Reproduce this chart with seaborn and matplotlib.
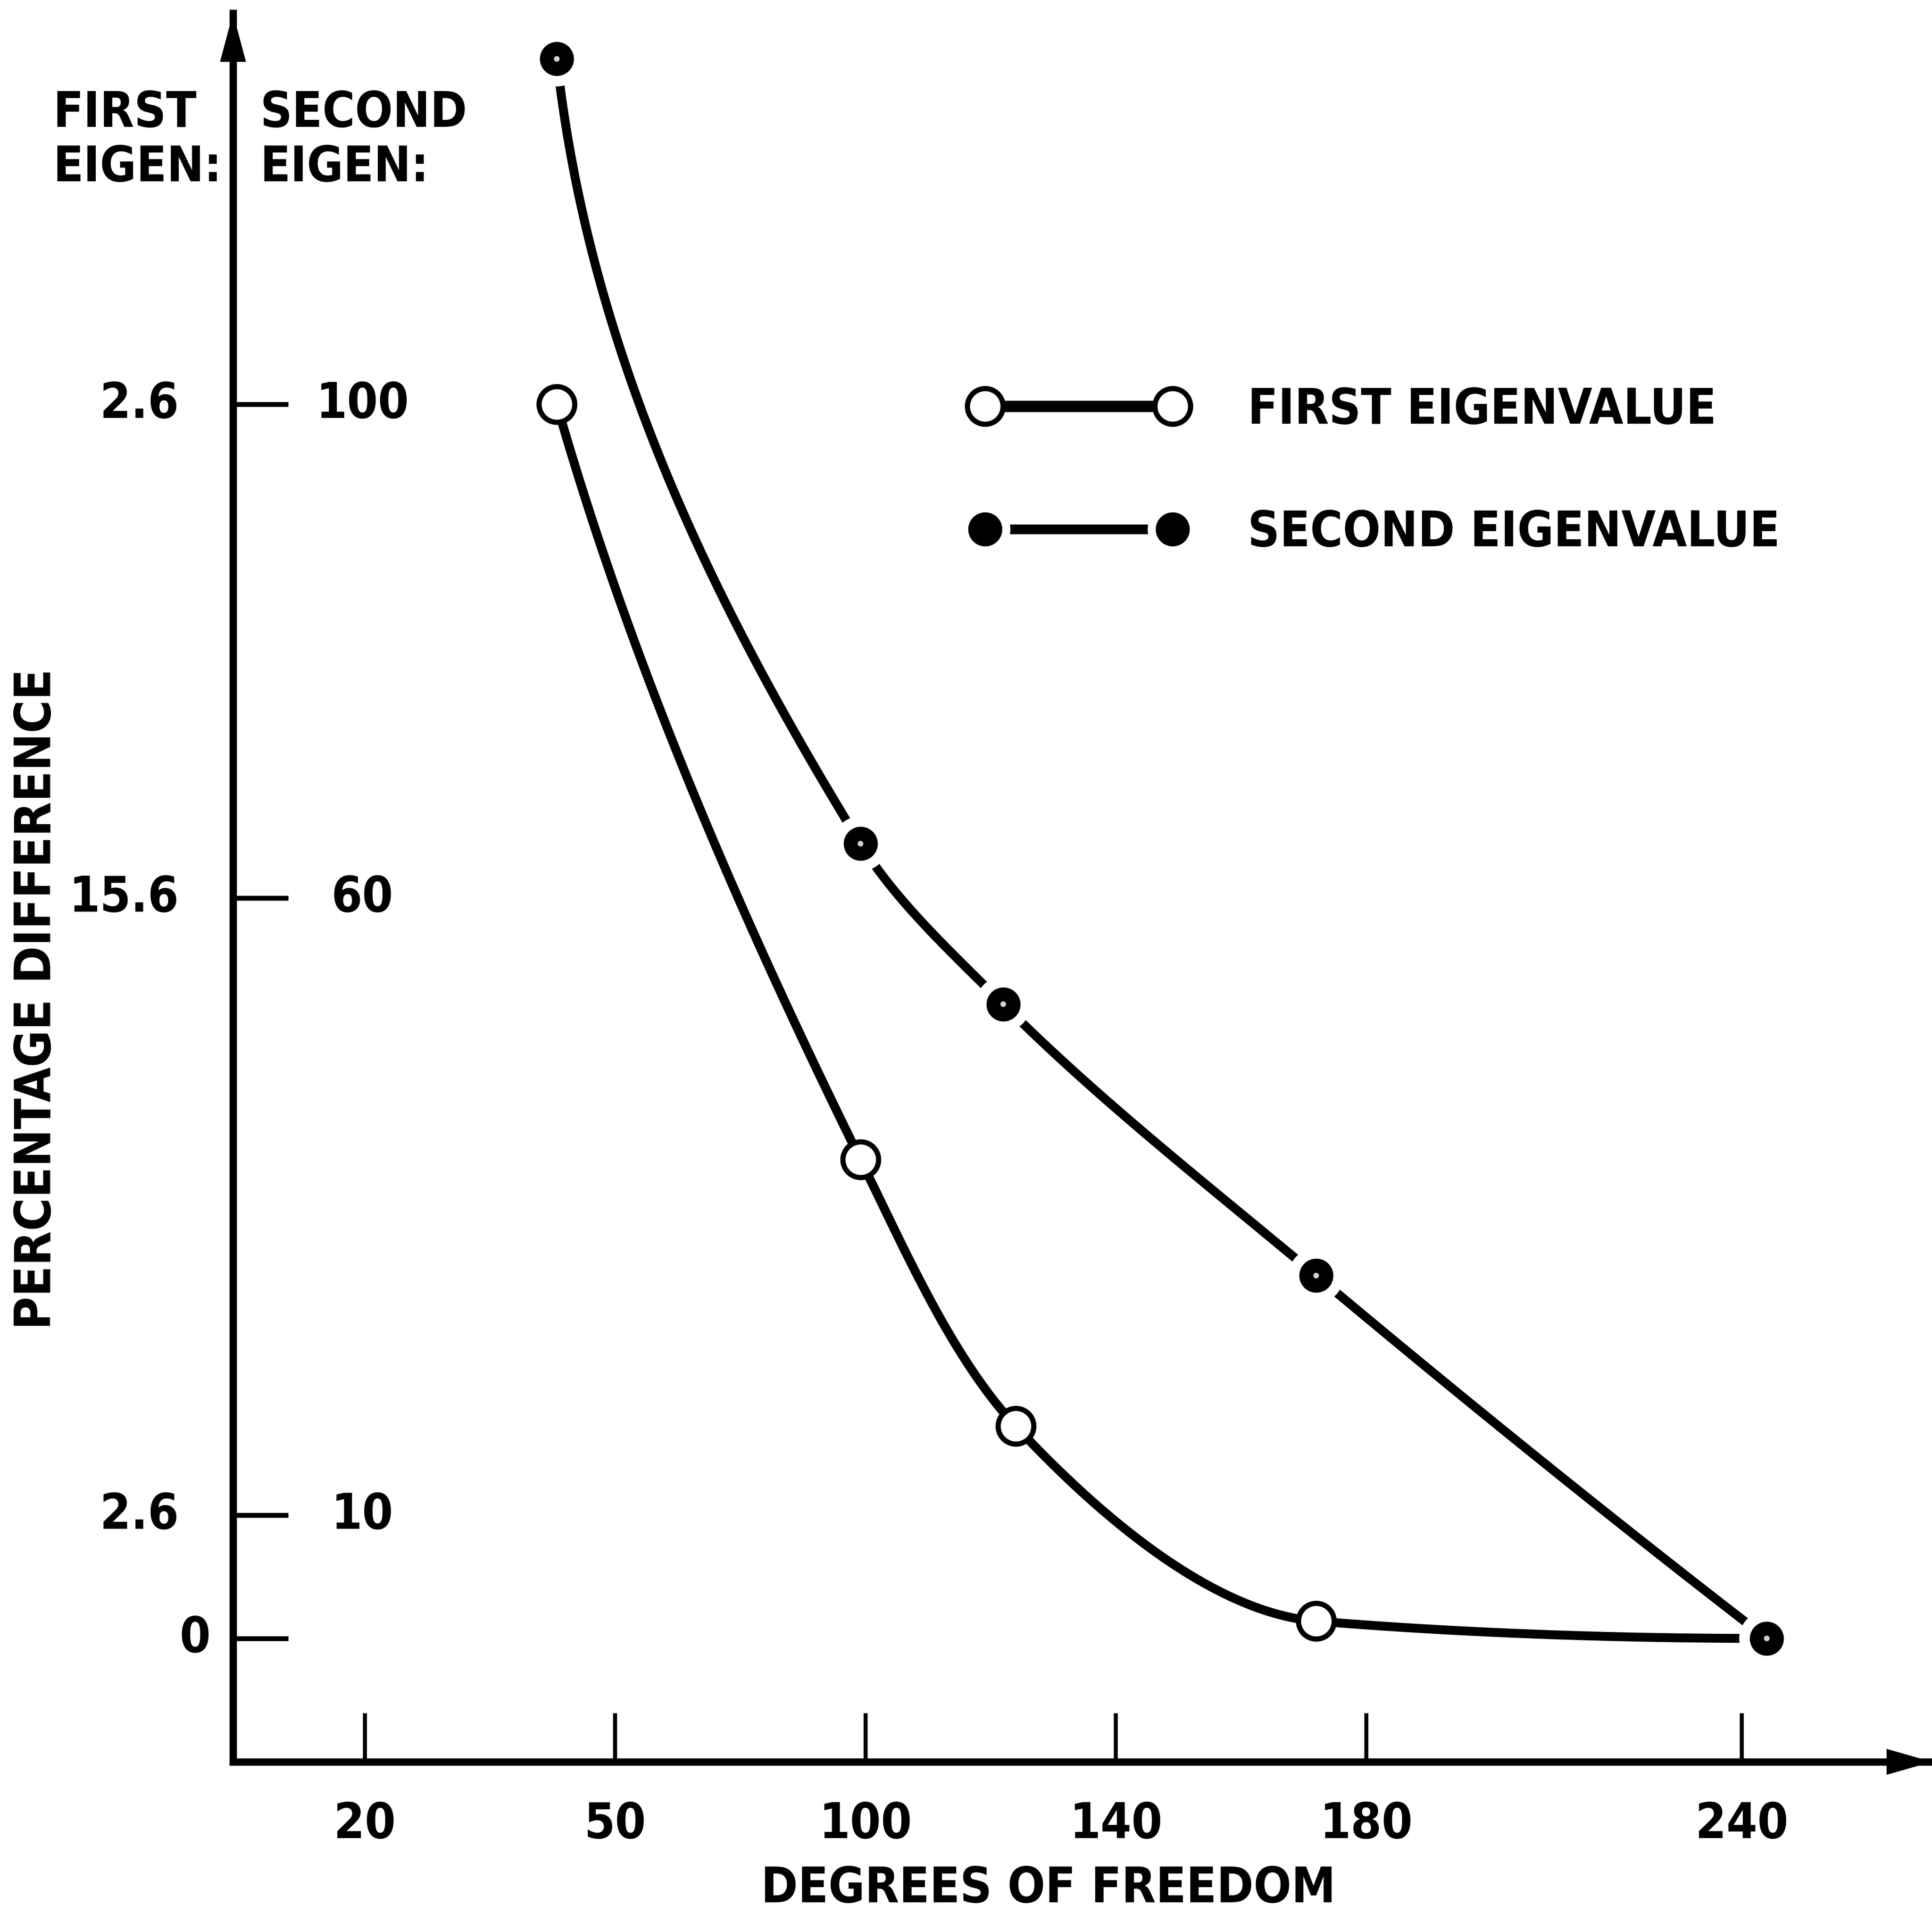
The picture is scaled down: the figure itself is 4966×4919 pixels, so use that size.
import os
import numpy as np
import pandas as pd
import matplotlib
matplotlib.use("Agg")
import matplotlib.pyplot as plt
from matplotlib import font_manager
from matplotlib.font_manager import FontProperties
from matplotlib.lines import Line2D
from matplotlib.legend_handler import HandlerTuple
from matplotlib.transforms import blended_transform_factory
import seaborn as sns

# ---- data -------------------------------------------------------------
# printed degrees-of-freedom ticks and the (uneven) axis position of each
dof_ticks = [20, 50, 100, 140, 180, 240]
dof_tick_pos = [0.0, 1.0, 2.0, 3.0, 4.0, 5.5]

# percentage difference, expressed on the second-eigenvalue scale
first_dof = [43, 99, 124, 172, 244]
first_pct = [100.0, 38.8, 17.2, 1.4, 0.0]
second_dof = [43, 99, 122, 172, 244]
second_pct = [128.0, 64.4, 51.4, 29.4, 0.0]

# y scale: one tick row, two label columns
y_ticks = [0, 10, 60, 100]
first_tick_labels = ["0", "2.6", "15.6", "2.6"]
second_tick_labels = ["", "10", "60", "100"]

series_names = ["FIRST EIGENVALUE", "SECOND EIGENVALUE"]


# ---- helpers ----------------------------------------------------------
def find_narrow_bold():
    """Path of a bold narrow/condensed sans face, if one is installed."""
    entries = font_manager.fontManager.ttflist
    wanted = [("liberationsansnarrow", "bold"),
              ("dejavusanscondensed", "bold"),
              ("narrow", "bold"),
              ("condensed", "bold")]
    for key, weight in wanted:
        for e in entries:
            fn = os.path.basename(e.fname).lower().replace("-", "").replace("_", "")
            if key in fn and weight in fn and "italic" not in fn \
                    and "oblique" not in fn:
                return e.fname
    for e in entries:
        stretch = e.stretch
        narrow = (isinstance(stretch, str) and "condensed" in stretch) or \
                 (isinstance(stretch, (int, float)) and stretch < 500)
        w = e.weight
        bold = (isinstance(w, str) and "bold" in w) or \
               (isinstance(w, (int, float)) and w >= 600)
        if narrow and bold and e.style == "normal":
            return e.fname
    return None


knot_dof = [0.0] + dof_ticks + [300.0]
knot_pos = [-2.0 / 3.0] + dof_tick_pos + [7.0]


def dof_forward(v):
    return np.interp(v, knot_dof, knot_pos)


def dof_inverse(p):
    return np.interp(p, knot_pos, knot_dof)


def monotone_cubic(x, y, xs):
    """Fritsch-Carlson monotone cubic through (x, y), evaluated at xs."""
    x = np.asarray(x, float)
    y = np.asarray(y, float)
    h = np.diff(x)
    d = np.diff(y) / h
    n = len(x)
    m = np.zeros(n)
    for k in range(1, n - 1):
        if d[k - 1] * d[k] > 0:
            w1 = 2 * h[k] + h[k - 1]
            w2 = h[k] + 2 * h[k - 1]
            m[k] = (w1 + w2) / (w1 / d[k - 1] + w2 / d[k])

    def end(h0, h1, d0, d1):
        s = ((2 * h0 + h1) * d0 - h0 * d1) / (h0 + h1)
        if np.sign(s) != np.sign(d0):
            return 0.0
        if np.sign(d0) != np.sign(d1) and abs(s) > 3 * abs(d0):
            return 3 * d0
        return s

    m[0] = end(h[0], h[1], d[0], d[1])
    m[-1] = end(h[-1], h[-2], d[-1], d[-2])
    idx = np.clip(np.searchsorted(x, xs) - 1, 0, n - 2)
    t = (xs - x[idx]) / h[idx]
    h00 = 2 * t**3 - 3 * t**2 + 1
    h10 = t**3 - 2 * t**2 + t
    h01 = -2 * t**3 + 3 * t**2
    h11 = t**3 - t**2
    return (h00 * y[idx] + h10 * h[idx] * m[idx]
            + h01 * y[idx + 1] + h11 * h[idx] * m[idx + 1])


def smooth_path(ax, dof, pct, n=700):
    """Smooth curve through the points, built along the drawn (screen) path."""
    pts = ax.transData.transform(np.column_stack([dof, pct]))
    seg = np.hypot(*np.diff(pts, axis=0).T)
    s = np.concatenate([[0.0], np.cumsum(seg)])
    ss = np.linspace(0.0, s[-1], n)
    xy = np.column_stack([monotone_cubic(s, pts[:, 0], ss),
                          monotone_cubic(s, pts[:, 1], ss)])
    back = ax.transData.inverted().transform(xy)
    return back[:, 0], back[:, 1]


# ---- style ------------------------------------------------------------
sns.set_theme(style="white")
plt.rcParams["font.family"] = ["DejaVu Sans"]
narrow_path = find_narrow_bold()
if narrow_path:
    FS = 30.5
    base_fp = dict(fname=narrow_path)
else:
    FS = 26
    base_fp = dict(family=["DejaVu Sans"], weight="bold")


def fp(size=None):
    return FontProperties(size=size or FS, **base_fp)


INK = "black"

fig = plt.figure(figsize=(4966 / 300, 4919 / 300), dpi=300)
ax = fig.add_axes([0.1206, 0.0795, 0.8794, 0.9136])
ax.set_xscale("function", functions=(dof_forward, dof_inverse))
ax.set_xlim(4.2, 270.4)
ax.set_ylim(-10, 131.7)

# ---- curves -----------------------------------------------------------
LW = 5.5
fx, fy = smooth_path(ax, first_dof, first_pct)
sx, sy = smooth_path(ax, second_dof, second_pct)
sns.lineplot(x=fx, y=fy, sort=False, estimator=None, color=INK, lw=LW,
             ax=ax, zorder=2)
sns.lineplot(x=sx, y=sy, sort=False, estimator=None, color=INK, lw=LW,
             ax=ax, zorder=2)

sns.scatterplot(x=first_dof, y=first_pct, s=22**2, facecolor="white",
                edgecolor=INK, linewidth=3.2, ax=ax, zorder=3)
# white halo that opens the line around each second-eigenvalue point
sns.scatterplot(x=second_dof, y=second_pct, s=34**2, facecolor="white",
                edgecolor="none", linewidth=0, ax=ax, zorder=4)
sns.scatterplot(x=second_dof, y=second_pct, s=20**2, facecolor=INK,
                edgecolor=INK, linewidth=1, ax=ax, zorder=5)
sns.scatterplot(x=second_dof, y=second_pct, s=3.5**2, facecolor="#d0d0d0",
                edgecolor="none", linewidth=0, ax=ax, zorder=6)

# ---- axes -------------------------------------------------------------
for side in ["top", "right"]:
    ax.spines[side].set_visible(False)
for side in ["left", "bottom"]:
    ax.spines[side].set_linewidth(4.5)
    ax.spines[side].set_color(INK)

ax.set_xticks(dof_ticks)
ax.set_xticklabels([str(v) for v in dof_ticks])
ax.tick_params(axis="x", bottom=True, direction="in", length=30, width=2.5,
               pad=24, colors=INK)
ax.set_yticks(y_ticks)
ax.tick_params(axis="y", left=True, direction="in", length=34, width=3,
               labelleft=False, colors=INK)
for lab in ax.get_xticklabels():
    lab.set_fontproperties(fp())

# arrowheads on both axes
arrow_kw = dict(mutation_scale=1, lw=0, color=INK, shrinkA=0, shrinkB=0)
ax.annotate("", xy=(0, 1), xycoords="axes fraction", xytext=(0, 0.95),
            textcoords="axes fraction", annotation_clip=False,
            arrowprops=dict(arrowstyle="-|>,head_length=30,head_width=8",
                            **arrow_kw))
ax.annotate("", xy=(1, 0), xycoords="axes fraction", xytext=(0.95, 0),
            textcoords="axes fraction", annotation_clip=False,
            arrowprops=dict(arrowstyle="-|>,head_length=28,head_width=8",
                            **arrow_kw))

# two label columns for the y ticks
ytrans = blended_transform_factory(fig.transFigure, ax.transData)
for val, lab in zip(y_ticks, first_tick_labels):
    x = 0.109 if lab == "0" else 0.0925
    ax.text(x, val, lab, transform=ytrans, ha="right", va="center",
            fontproperties=fp(), color=INK)
for val, lab in zip(y_ticks, second_tick_labels):
    if lab:
        ax.text(0.1875, val, lab, transform=ytrans, ha="center", va="center",
                fontproperties=fp(), color=INK)

# column headings
for x, word in [(0.0274, "FIRST"), (0.1346, "SECOND")]:
    fig.text(x, 0.9337, word, fontproperties=fp(), ha="left",
             va="baseline", color=INK)
    fig.text(x, 0.9053, "EIGEN:", fontproperties=fp(), ha="left",
             va="baseline", color=INK)

# axis titles
fig.text(0.5427, 0.006, "DEGREES OF FREEDOM", fontproperties=fp(),
         ha="center", va="baseline", color=INK)
fig.text(0.019, 0.478, "PERCENTAGE DIFFERENCE", fontproperties=fp(FS + 0.5),
         rotation=90, ha="center", va="center", color=INK)

# ---- legend -----------------------------------------------------------
h_first = Line2D([], [], color=INK, lw=7, marker="o", ms=22,
                 mfc="white", mec=INK, mew=3.2)
h_second = (
    Line2D([], [], color=INK, lw=6),
    Line2D([], [], ls="none", marker="o", ms=30, mfc="white", mec="white"),
    Line2D([], [], ls="none", marker="o", ms=20, mfc=INK, mec=INK),
)
leg = fig.legend([h_first, h_second], series_names,
                 handler_map={tuple: HandlerTuple(ndivide=1, pad=0)},
                 numpoints=2, loc="center left",
                 bbox_to_anchor=(0.5022, 0.7537), frameon=False,
                 prop=fp(), handlelength=4.39, handletextpad=1.22,
                 labelspacing=1.52, borderpad=0, borderaxespad=0)
for t in leg.get_texts():
    t.set_color(INK)

fig.savefig("out.png", dpi=300, facecolor="white")
